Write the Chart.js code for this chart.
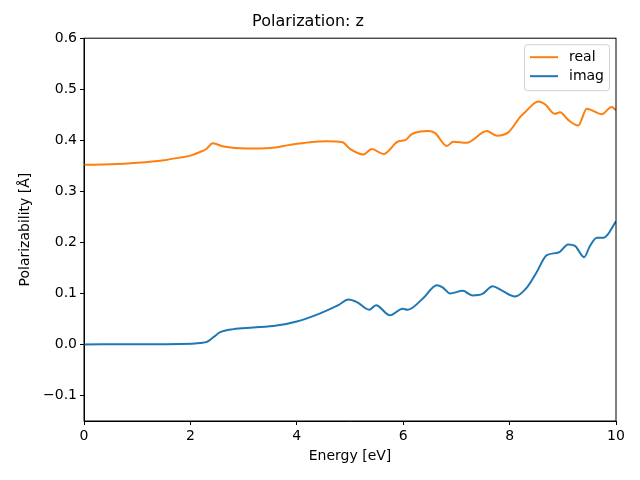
<!DOCTYPE html>
<html lang="en">
<head>
    <meta charset="UTF-8">
    <title>Polarization: z</title>
    <script src="https://cdn.jsdelivr.net/npm/chart.js"></script>
    <style>
        html, body { margin: 0; padding: 0; background: #fff; }
        #wrap { width: 640px; height: 480px; }
    </style>
</head>
<body>
    <div id="wrap"><canvas id="myChart" width="640" height="480"></canvas></div>
    <script>
        // data
        const realE = [0, 0.5, 1.0, 1.5, 1.8, 2.0, 2.18, 2.3, 2.42, 2.62, 3.06, 3.5, 3.87, 4.25, 4.56, 4.86, 5.0, 5.25, 5.41, 5.63, 5.91, 6.03, 6.16, 6.32, 6.47, 6.6, 6.82, 6.94, 7.19, 7.57, 7.76, 7.98, 8.2, 8.29, 8.54, 8.67, 8.85, 8.95, 9.1, 9.29, 9.45, 9.54, 9.73, 9.92, 10];
        const realV = [0.352, 0.353, 0.356, 0.361, 0.366, 0.370, 0.377, 0.383, 0.394, 0.388, 0.384, 0.385, 0.391, 0.396, 0.398, 0.396, 0.383, 0.372, 0.383, 0.373, 0.398, 0.400, 0.412, 0.417, 0.418, 0.414, 0.389, 0.397, 0.395, 0.418, 0.409, 0.416, 0.446, 0.455, 0.476, 0.470, 0.452, 0.455, 0.440, 0.429, 0.462, 0.459, 0.451, 0.465, 0.459];
        const imagE = [0, 1.0, 1.8, 2.2, 2.31, 2.43, 2.56, 2.81, 3.18, 3.62, 4.0, 4.44, 4.78, 4.97, 5.13, 5.36, 5.49, 5.75, 5.99, 6.08, 6.38, 6.63, 6.74, 6.88, 7.12, 7.3, 7.49, 7.68, 7.85, 8.1, 8.32, 8.5, 8.7, 8.92, 9.1, 9.23, 9.4, 9.51, 9.64, 9.77, 10];
        const imagV = [0, 0.0005, 0.001, 0.003, 0.005, 0.014, 0.024, 0.030, 0.033, 0.037, 0.045, 0.061, 0.077, 0.088, 0.083, 0.068, 0.077, 0.057, 0.070, 0.068, 0.091, 0.116, 0.112, 0.100, 0.105, 0.096, 0.099, 0.114, 0.106, 0.094, 0.111, 0.140, 0.175, 0.180, 0.196, 0.193, 0.171, 0.193, 0.209, 0.209, 0.241];
        const xTicks = [0, 2, 4, 6, 8, 10];
        const yTicks = [-0.1, 0, 0.1, 0.2, 0.3, 0.4, 0.5, 0.6];

        const FONT = "'DejaVu Sans', sans-serif";

        function toPoints(xs, ys) {
            return xs.map(function (x, i) { return { x: x, y: ys[i] }; });
        }

        // box around the plot + matplotlib-like legend
        const framePlugin = {
            id: 'frame',
            afterDatasetsDraw: function (chart) {
                const a = chart.chartArea;
                const c = chart.ctx;
                c.save();
                c.strokeStyle = '#000';
                c.lineWidth = 1;
                c.strokeRect(a.left, a.top, a.right - a.left, a.bottom - a.top);

                // legend
                const bx = a.right - 92, by = a.top + 6, bw = 85, bh = 46;
                c.fillStyle = 'rgba(255,255,255,0.8)';
                c.strokeStyle = '#d0d0d0';
                c.beginPath();
                c.roundRect(bx + 0.5, by + 0.5, bw, bh, 3);
                c.fill();
                c.stroke();
                c.font = '14px ' + FONT;
                c.textBaseline = 'middle';
                chart.data.datasets.forEach(function (ds, i) {
                    const y = by + 13 + i * 19;
                    c.strokeStyle = ds.borderColor;
                    c.lineWidth = 2;
                    c.beginPath();
                    c.moveTo(bx + 6, y);
                    c.lineTo(bx + 34, y);
                    c.stroke();
                    c.fillStyle = '#000';
                    c.fillText(ds.label, bx + 45, y);
                });
                c.restore();
            }
        };

        const ctx = document.getElementById('myChart');
        const mychart = new Chart(ctx, {
            type: 'line',
            data: {
                datasets: [{
                    label: 'real',
                    data: toPoints(realE, realV),
                    borderColor: '#ff7f0e',
                    borderWidth: 2,
                    pointRadius: 0,
                    cubicInterpolationMode: 'monotone'
                }, {
                    label: 'imag',
                    data: toPoints(imagE, imagV),
                    borderColor: '#1f77b4',
                    borderWidth: 2,
                    pointRadius: 0,
                    cubicInterpolationMode: 'monotone'
                }]
            },
            options: {
                responsive: false,
                animation: false,
                layout: { padding: { left: 0, right: 24, top: 0, bottom: 0 } },
                plugins: {
                    legend: { display: false },
                    tooltip: { enabled: false },
                    title: {
                        display: true,
                        text: 'Polarization: z',
                        color: '#000',
                        font: { family: FONT, size: 16, weight: 'normal' },
                        padding: { top: 12, bottom: 7 }
                    }
                },
                scales: {
                    x: {
                        type: 'linear',
                        min: 0,
                        max: 10,
                        afterBuildTicks: function (s) { s.ticks = xTicks.map(function (v) { return { value: v }; }); },
                        afterFit: function (s) { s.height = 59; },
                        grid: { drawOnChartArea: false, tickLength: 4, color: '#000' },
                        border: { color: '#000' },
                        ticks: { color: '#000', padding: 3, maxRotation: 0, font: { family: FONT, size: 14 } },
                        title: {
                            display: true,
                            text: 'Energy [eV]',
                            color: '#000',
                            font: { family: FONT, size: 14 },
                            padding: { top: 0, bottom: 15 }
                        }
                    },
                    y: {
                        min: -0.15,
                        max: 0.6,
                        afterBuildTicks: function (s) { s.ticks = yTicks.map(function (v) { return { value: v }; }); },
                        afterFit: function (s) { s.width = 84; },
                        grid: { drawOnChartArea: false, tickLength: 4, color: '#000' },
                        border: { color: '#000' },
                        ticks: {
                            color: '#000',
                            padding: 3,
                            font: { family: FONT, size: 14 },
                            callback: function (v) { return v.toFixed(1).replace('-', '\u2212'); }
                        },
                        title: {
                            display: true,
                            text: 'Polarizability [Å]',
                            color: '#000',
                            font: { family: FONT, size: 14 },
                            padding: { top: 17, bottom: 0 }
                        }
                    }
                }
            },
            plugins: [framePlugin]
        });
    </script>
</body>
</html>
